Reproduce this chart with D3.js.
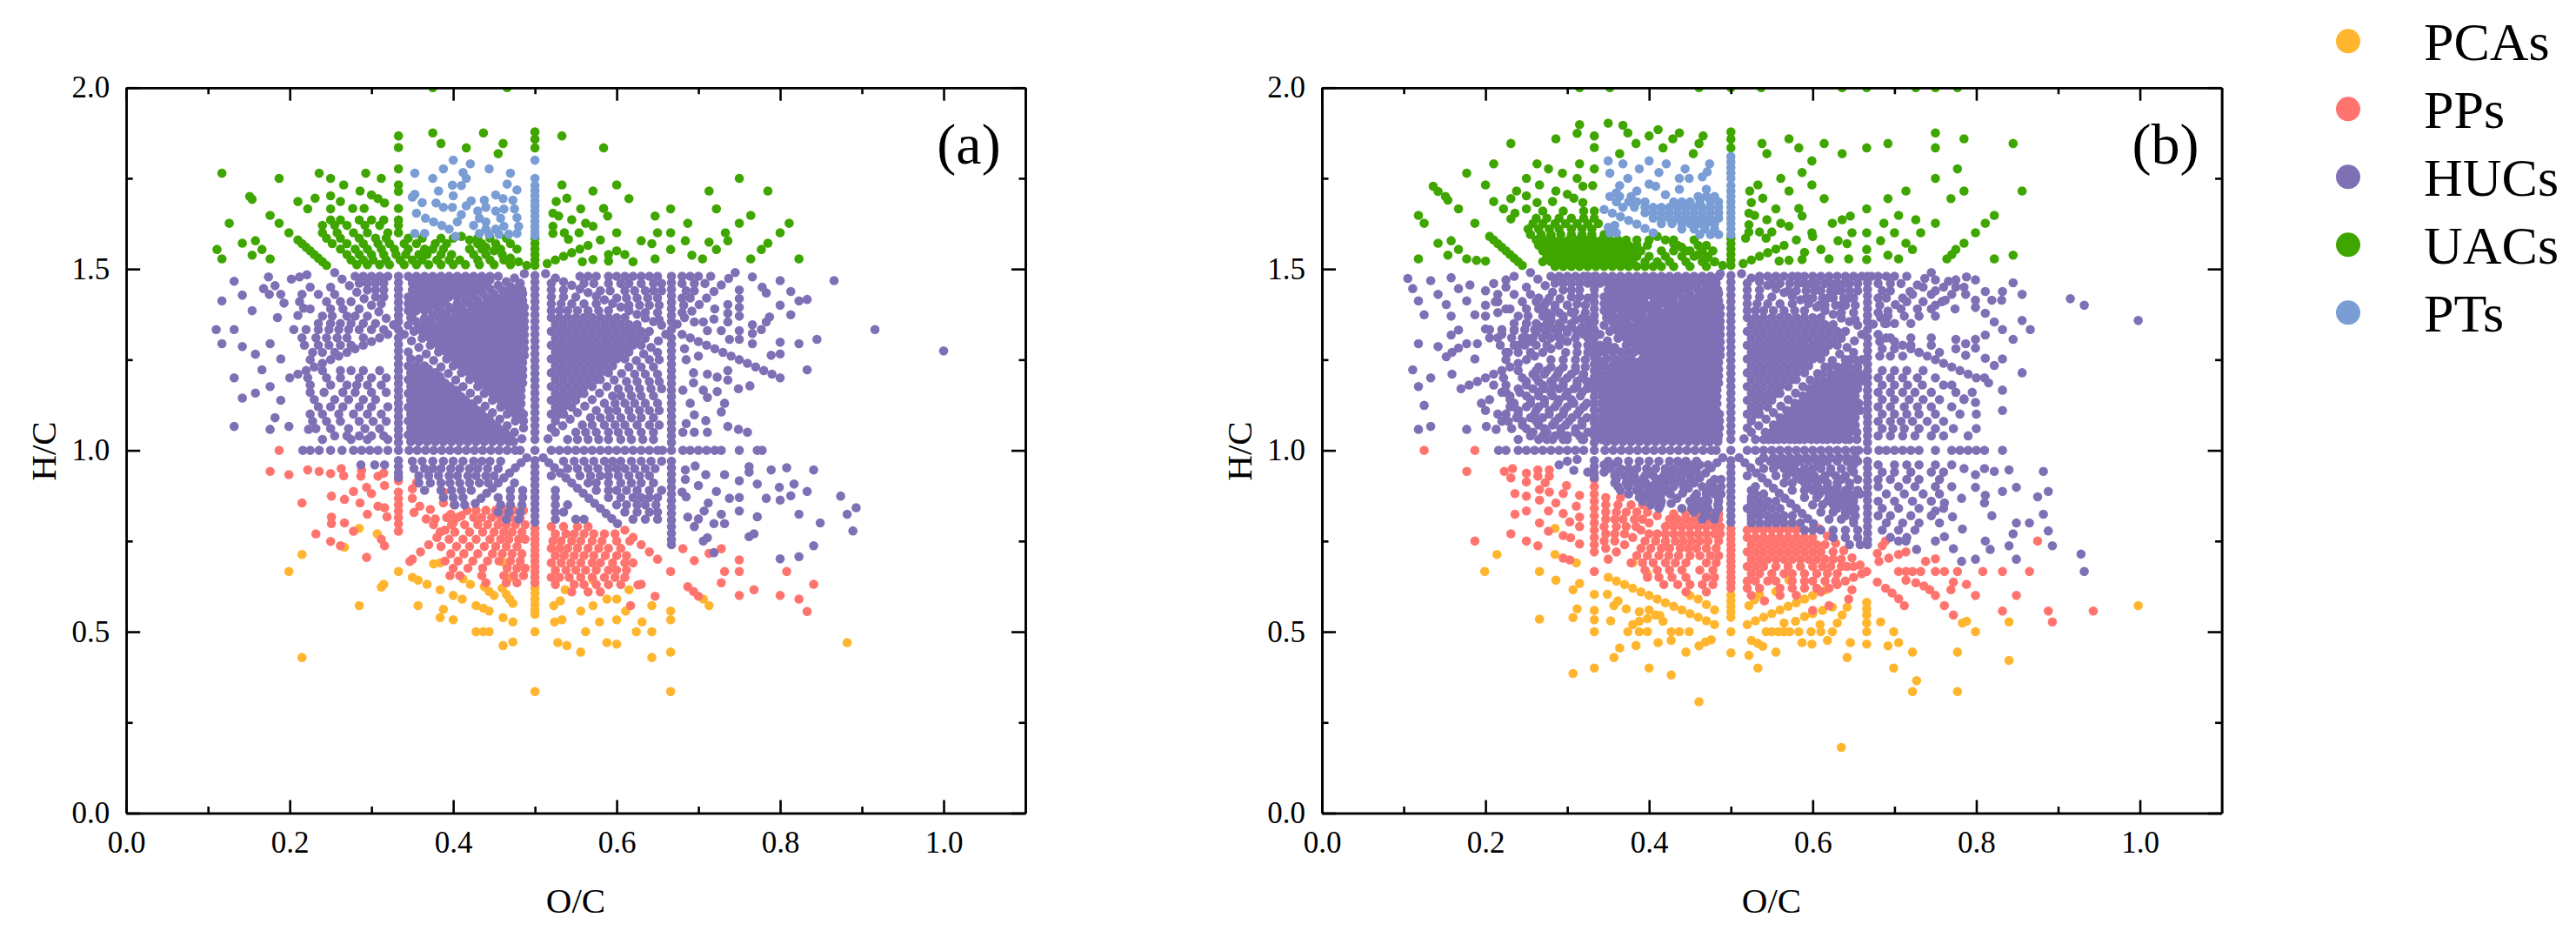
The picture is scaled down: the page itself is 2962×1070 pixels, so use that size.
<!DOCTYPE html>
<html><head><meta charset="utf-8">
<style>html,body{margin:0;background:#fff}svg{display:block}text{font-family:"Liberation Serif",serif;fill:#000}</style>
<script src="https://cdn.jsdelivr.net/npm/d3@7"></script></head><body>
<script>
const seriesNames=["PCAs","PPs","HUCs","UACs","PTs"];
const seriesColors=["#FFB52E","#FF746E","#7F70B6","#3FA600","#799DD4"];
const xTicks=[0,.2,.4,.6,.8,1.0];
const xMinor=[.1,.3,.5,.7,.9];
const yTicks=[0,.5,1,1.5,2];
const yMinor=[.25,.75,1.25,1.75];

// rows: [H/C,[O/C x 1000 ...]]
const hucCoreRows=[
[1.48,[280,290,300,310,320,345,355,365,375,385,395,405,415,425,435,445,455]],
[1.461,[285,295,305,315,350,360,370,380,390,400,410,420,430,440,482]],
[1.442,[295,305,315,350,360,370,380,390,400,410,420,428,460,472,484]],
[1.423,[305,315,345,355,365,375,385,395,405,440,450,460,470,480]],
[1.404,[312,345,355,365,375,385,420,430,440,450,460,470,480]],
[1.385,[345,355,365,402,412,422,432,442,452,462,472,482]],
[1.366,[348,382,392,402,412,422,432,442,452,462,472,482]],
[1.347,[365,375,385,395,405,415,425,435,445,455,465,475,485]],
[1.328,[352,362,372,382,392,402,412,422,432,442,452,462,472,482]],
[1.309,[362,372,382,392,402,412,422,432,442,452,462,472,482]],
[1.29,[372,382,392,402,412,422,432,442,452,462,472,482]],
[1.271,[345,382,392,402,412,422,432,442,452,462,472,482]],
[1.252,[348,358,392,402,412,422,432,442,452,462,472,482]],
[1.233,[345,355,365,400,410,420,430,440,450,460,470,480]],
[1.214,[348,358,368,378,410,420,430,440,450,460,470,480]],
[1.195,[345,355,365,375,385,420,430,440,450,460,470,480]],
[1.176,[348,358,368,378,388,396,430,440,450,460,470,480]],
[1.157,[345,355,365,375,385,395,405,438,448,458,468,478]],
[1.138,[348,358,368,378,388,398,408,415,448,458,468,478]],
[1.119,[345,355,365,375,385,395,405,415,425,458,468,478]],
[1.1,[348,358,368,378,388,398,408,418,428,435,466,476,486]],
[1.081,[345,355,365,375,385,395,405,415,425,435,445,476,486]],
[1.062,[348,358,368,378,388,398,408,418,428,438,448,455,486]],
[1.043,[345,355,365,375,385,395,405,415,425,435,445,455,465]],
[1.024,[348,358,368,378,388,398,408,418,428,438,448,458,468,474]],
// second lattice that closes the pin-holes of the solid area
[1.338,[357,367,377,387,397,407,417,427,437,447,457,467,477,487]],
[1.3185,[367,377,387,397,407,417,427,437,447,457,467,477,487]],
[1.2995,[377,387,397,407,417,427,437,447,457,467,477,487]],
[1.2805,[387,397,407,417,427,437,447,457,467,477,487]],
[1.2615,[397,407,417,427,437,447,457,467,477,487]],
[1.2425,[405,415,425,435,445,455,465,475,485]],
[1.2235,[350,360,370,415,425,435,445,455,465,475,485]],
[1.2045,[353,363,373,383,425,435,445,455,465,475,485]],
[1.1855,[350,360,370,380,390,435,445,455,465,475,485]],
[1.1665,[353,363,373,383,393,403,443,453,463,473,483]],
[1.1475,[350,360,370,380,390,400,410,453,463,473,483]],
[1.1285,[353,363,373,383,393,403,413,423,463,473,483]],
[1.11,[350,360,370,380,390,400,410,420,430,470,482]],
[1.09,[353,363,373,383,393,403,413,423,433,443,480]],
[1.07,[350,360,370,380,390,400,410,420,430,440,450]],
[1.052,[353,363,373,383,393,403,413,423,433,443,453,463]],
[1.033,[350,360,370,380,390,400,410,420,430,440,450,460,470]],
[1.47,[350,365,375,385,395,405,415,425,435,445]],
[1.452,[355,365,375,385,395,405,415,425,435,470,480]],
[1.432,[355,365,375,385,395,405,415,450,465,475,485]],
[1.413,[350,360,370,380,390,430,445,455,465,475,485]],
[1.395,[350,360,370,380,410,425,437,447,457,467,477,487]],
[1.375,[350,392,407,417,427,437,447,457,467,477,487]],
[1.356,[372,387,397,407,417,427,437,447,457,467,477,487]],
// right of O/C = 0.5
[1.461,[520]],[1.442,[520,535]],[1.423,[520,535,550]],[1.404,[520,532,545,560,575]],
[1.385,[520,530,540,552,565,578,590]],
[1.366,[520,530,540,550,560,570,580,590,600,610]],
[1.347,[525,535,545,555,565,575,585,595,605,615,625]],
[1.328,[520,530,540,550,560,570,580,590,600,610,620,630,640]],
[1.309,[525,535,545,555,565,575,585,595,605,615,625,635]],
[1.29,[520,530,540,550,560,570,580,590,600,610,620,630]],
[1.271,[525,535,545,555,565,575,585,595,605,615]],
[1.252,[520,530,540,550,560,570,580,590,600,610]],
[1.233,[525,535,545,555,565,575,585,595]],
[1.214,[520,530,540,550,560,570,580,590]],
[1.195,[525,535,545,555,565,575,580]],
[1.176,[520,530,540,550,560,570]],
[1.157,[525,535,545,555,560]],
[1.138,[520,530,540,550]],
[1.119,[525,535,545]],[1.1,[520,530,535]],[1.081,[525]],[1.062,[520]],
[1.48,[555,565,575,590,600,610,620,630,640,650,680,690,700,715]],
[1.46,[560,572,590,605,615,630,645,655,680,695,708]],
[1.44,[580,592,610,622,635,645,655,685,695]],
[1.42,[600,612,625,638,650,680,690]],
[1.4,[615,628,640,652,682]],[1.38,[635,650,680]],[1.36,[652]],
[1.27,[650]],[1.25,[640,652]],[1.23,[630,645]],[1.21,[622,635,650]],[1.19,[612,625,640,652]],
[1.17,[602,615,628,642,655]],[1.15,[595,605,618,630,645]],[1.13,[585,598,610,622,635,650]],
[1.11,[575,590,600,615,628,640,652]],[1.09,[568,580,592,605,618,630,645]],
[1.07,[558,570,585,598,610,625,640,652]],[1.05,[550,562,575,590,602,615,630,645]],
[1.03,[540,552,565,578,590,605,618,632,645]]
];
const hucRayPts=[
[.255,1.49],[.264,1.472],[.273,1.454],[.282,1.436],[.291,1.418],[.3,1.4],[.309,1.382],[.318,1.364],[.327,1.346],[.333,1.333],[.34,1.32],[.349,1.302],[.358,1.284],[.367,1.266],[.376,1.248],[.385,1.23],[.394,1.212],[.403,1.194],[.412,1.176],[.421,1.158],[.43,1.14],[.439,1.122],[.448,1.104],[.457,1.086],[.466,1.068],[.475,1.05],[.484,1.032],
[.2,1.2],[.21,1.21],[.22,1.22],[.23,1.23],[.24,1.24],[.25,1.25],[.26,1.26],[.27,1.27],[.28,1.28],[.29,1.29],[.3,1.3],[.31,1.31],[.32,1.32],[.345,1.345],[.355,1.355],[.365,1.365],[.375,1.375],[.385,1.385],[.395,1.395],[.405,1.405],[.415,1.415],[.425,1.425],[.435,1.435],[.445,1.445],[.455,1.455],[.465,1.465],[.475,1.475],[.487,1.487],
[.513,1.487],[.525,1.475],[.535,1.465],[.545,1.455],[.555,1.445],[.565,1.435],[.575,1.425],[.585,1.415],[.595,1.405],[.605,1.395],[.615,1.385],[.625,1.375],[.635,1.365],[.645,1.355],[.655,1.345],[.667,1.333],[.68,1.32],[.69,1.31],[.7,1.3],[.71,1.29],[.72,1.28],[.73,1.27],[.74,1.26],[.75,1.25],[.76,1.24],[.77,1.23],[.78,1.22],[.79,1.21],[.8,1.2],
[.516,1.032],[.525,1.05],[.534,1.068],[.543,1.086],[.552,1.104],[.561,1.122],[.57,1.14],[.579,1.158],[.588,1.176],[.597,1.194],[.606,1.212],[.615,1.23],[.624,1.248],[.633,1.266],[.642,1.284],[.651,1.302],[.66,1.32],[.674,1.348],[.683,1.366],[.692,1.384],[.701,1.402],[.71,1.42],[.719,1.438],[.728,1.456],[.737,1.474],[.745,1.49],
// column O/C = 1/2 upper
[.5,1.482],[.5,1.464],[.5,1.446],[.5,1.428],[.5,1.41],[.5,1.392],[.5,1.374],[.5,1.356],[.5,1.338],[.5,1.32],[.5,1.302],[.5,1.284],[.5,1.266],[.5,1.248],[.5,1.23],[.5,1.212],[.5,1.194],[.5,1.176],[.5,1.158],[.5,1.14],[.5,1.122],[.5,1.104],[.5,1.086],[.5,1.068],[.5,1.05],[.5,1.03],
[.5,1.0],
[.5,.972],[.5,.955],[.5,.938],[.5,.921],[.5,.904],[.5,.887],[.5,.87],[.5,.853],[.5,.836],[.5,.819],[.5,.802],
// columns 1/3 and 2/3
[.333,1.48],[.333,1.462],[.333,1.444],[.333,1.426],[.333,1.408],[.333,1.39],[.333,1.372],[.333,1.355],[.333,1.31],[.333,1.292],[.333,1.274],[.333,1.256],[.333,1.238],[.333,1.22],[.333,1.202],[.333,1.184],[.333,1.166],[.333,1.148],[.333,1.13],[.333,1.112],[.333,1.094],[.333,1.076],[.333,1.058],[.333,1.04],[.333,1.022],
[.667,1.48],[.667,1.462],[.667,1.444],[.667,1.426],[.667,1.408],[.667,1.39],[.667,1.372],[.667,1.355],[.667,1.31],[.667,1.292],[.667,1.274],[.667,1.256],[.667,1.238],[.667,1.22],[.667,1.202],[.667,1.184],[.667,1.166],[.667,1.148],[.667,1.13],[.667,1.112],[.667,1.094],[.667,1.076],[.667,1.058],[.667,1.04],[.667,1.022],
[.333,.972],[.333,.955],[.333,.938],[.333,.925],
[.667,.97],[.667,.952],[.667,.934],[.667,.916],[.667,.898],[.667,.88],[.667,.862],[.667,.844],[.667,.826],[.667,.808],[.667,.79],[.667,.772],[.667,.754],[.667,.74],
// rays under H/C = 1
[.49,.98],[.483,.966],[.476,.952],[.469,.938],[.462,.924],[.455,.91],[.448,.896],[.441,.882],[.434,.868],[.427,.854],
[.51,.98],[.517,.966],[.524,.952],[.531,.938],[.538,.924],[.545,.91],[.552,.896],[.559,.882],[.566,.868],[.573,.854],[.58,.84],[.587,.826],[.594,.812],[.601,.798]
];
const hucLowerRows=[
[.97,[350,362,375,388,400,412,425,435,445,458,535,548,560,572,585,595,605,618,630,642,655]],
[.95,[352,365,375,385,397,408,420,430,442,455,540,552,565,577,590,600,610,622,635,647]],
[.93,[358,370,382,395,405,418,428,440,450,520,555,568,580,590,602,615,628,640]],
[.91,[358,372,385,396,408,420,432,443,475,565,575,590,605,618,630,645]],
[.89,[365,385,398,410,422,470,485,525,575,590,600,612,625,640,655]],
[.87,[388,400,412,455,470,485,525,590,605,620,630,640,650]],
[.85,[402,414,458,470,484,525,540,600,612,625,635,648]],
[.83,[455,468,482,525,535,610,625,640,650]],
[.81,[465,480,525,550,560,620,635,650]]
];
const hucAPts=[
[.132,1.466],[.174,1.478],[.182,1.454],[.168,1.446],[.117,1.412],[.142,1.428],[.175,1.43],[.189,1.43],[.202,1.472],[.212,1.478],[.221,1.484],[.193,1.406],[.154,1.385],[.217,1.392],[.185,1.366],[.21,1.372],[.11,1.333],[.132,1.333],[.117,1.294],[.142,1.286],[.158,1.265],[.176,1.294],[.189,1.252],[.166,1.222],[.132,1.2],[.176,1.176],[.142,1.144],[.158,1.158],[.189,1.138],[.182,1.09],[.132,1.066],[.176,1.058],[.199,1.066],[.223,1.058],
[.866,1.468],[.916,1.333],[1.0,1.274],[.813,1.438],[.8,1.468],[.778,1.45],[.766,1.478],[.783,1.434],[.823,1.412],[.833,1.416],[.8,1.4],[.813,1.374],[.787,1.368],[.783,1.354],[.777,1.333],[.845,1.306],[.823,1.294],[.8,1.298],[.8,1.266],[.789,1.262],[.833,1.222],[.766,1.294],[.766,1.346],[.766,1.322],[.75,1.442],[.75,1.418],[.75,1.394],[.75,1.37],[.75,1.33],[.75,1.306],[.736,1.402],[.736,1.378],[.736,1.354],[.728,1.33],[.738,1.306],[.719,1.362],[.706,1.354],[.695,1.354],[.711,1.33],[.72,1.39],
[.763,1.178],[.749,1.17],[.736,1.194],[.723,1.202],[.711,1.21],[.736,1.22],[.694,1.214],[.694,1.186],[.706,1.166],[.723,1.162],[.732,1.13],[.711,1.146],[.69,1.13],[.728,1.106],[.695,1.098],[.681,1.166],[.685,1.074],[.709,1.082],[.736,1.066],[.749,1.058],[.76,1.05],[.711,1.05],[.695,1.05],[.681,1.05],[.685,1.25],[.7,1.26],[.683,1.28],
[.216,1],[.225,1],[.236,1],[.25,1],[.264,1],[.278,1],[.288,1],[.298,1],[.308,1],[.32,1],[.333,1],[.346,1],[.356,1],[.366,1],[.376,1],[.386,1],[.396,1],[.406,1],[.416,1],[.426,1],[.436,1],[.446,1],[.456,1],[.466,1],[.476,1],[.482,1],[.52,1],[.53,1],[.54,1],[.55,1],[.56,1],[.57,1],[.58,1],[.59,1],[.6,1],[.61,1],[.62,1],[.63,1],[.64,1],[.65,1],[.656,1],[.667,1],[.681,1],[.69,1],[.7,1],[.71,1],[.72,1],[.728,1],[.75,1],[.772,1],[.778,1],
[.287,.96],[.304,.96],[.316,.96],
[.684,.946],[.696,.957],[.709,.933],[.732,.933],[.762,.955],[.762,.94],[.789,.946],[.808,.952],[.841,.946],[.75,.916],[.772,.907],[.799,.898],[.817,.907],[.833,.887],[.783,.868],[.8,.863],[.813,.875],[.738,.868],[.722,.887],[.712,.855],[.707,.833],[.7,.811],[.695,.79],[.728,.824],[.732,.798],[.719,.798],[.75,.833],[.772,.817],[.823,.824],[.849,.8],[.874,.874],[.882,.824],[.893,.842],[.889,.778],[.768,.77],[.762,.762],[.841,.737],[.823,.707],[.8,.701],[.711,.759],[.706,.75],[.719,.718],[.684,.92],[.68,.885],[.685,.872],[.687,.816],[.7,.903],[.75,.87]
];
const hucAWedgeRows=[
[1.45,[225,250]],[1.43,[215,235,255]],[1.41,[212,245,262,275]],[1.39,[225,250,265,285]],[1.37,[240,252,270,280,295]],[1.35,[235,250,262,275,290,305]],[1.333,[205,220,235,248,260,272,285,300,315]],[1.31,[215,232,245,258,270,290]],[1.29,[218,235,248,262,275]],[1.27,[228,240,255]],[1.25,[225]],
[1.22,[240,262,275,290,310]],[1.2,[222,245,262,285,300,318]],[1.18,[225,250,270,282,295,312]],[1.16,[225,242,265,280,300,318]],[1.14,[230,255,272,290,305]],[1.12,[235,250,265,285,300,320]],[1.1,[225,240,260,278,295,312]],[1.08,[228,245,262,285,302,318]],[1.06,[232,250,272,292,310]],[1.04,[255,270,285,300,315]],[1.03,[240,275,295,320]]
];
const hucBExtraRows=[
[1.461,[450,460,470]],[1.442,[438,448]],[1.423,[415,428]],[1.404,[395,408]],[1.385,[375,390]],[1.366,[358,370]],
[1.271,[355,365,375]],[1.252,[368,378]],[1.233,[375,388]],[1.214,[388,398]],[1.195,[395,408]],[1.176,[408,418]],[1.157,[415,426]],[1.138,[425,436]],[1.119,[435,446]],[1.1,[445,456]],[1.081,[455,465]],[1.062,[465,475]],[1.043,[475,485]],[1.024,[484]],
[1.2425,[360,372,385,395]],[1.2235,[380,392,405]],[1.2045,[393,403,415]],[1.1855,[400,412,425]],[1.1665,[413,423,433]],[1.1475,[420,432,443]],[1.1285,[433,443,453]],[1.11,[440,450,460]],[1.09,[453,463,470]],[1.07,[460,470,480]],[1.052,[473,483]],[1.033,[480]],
[1.48,[325,335,485,475,465]],[1.461,[325,340,472]],
[1.42,[265,278,325]],[1.4,[272,285,300,322]],[1.38,[275,290,305,322]],[1.36,[280,295,310,325]],[1.34,[268,280,292,305,318]],[1.325,[262,275,288,300,312,325]],[1.31,[280,292,325]],
[1.29,[312,325,340,350]],[1.27,[298,312,325,338]],[1.25,[280,295,310,322,338]],[1.23,[265,280,295,310,322,338]],[1.21,[258,272,288,305,320,340]],[1.19,[250,265,280,295,312,324,340]],[1.17,[240,258,272,290,308,324,342]],[1.15,[230,250,265,282,298,316,342]],[1.13,[235,255,272,288,308,324,342]],[1.11,[240,262,278,296,315,342]],[1.09,[238,255,270,290,306,324,342]],[1.07,[245,265,282,298,318,342]],[1.05,[258,275,292,310,325,342]],[1.03,[265,282,300,318,342]],
[1.48,[535,545,582,660,672]],[1.46,[550,582,598,622,638]],[1.44,[570,602,628]],[1.42,[592,618,645]],[1.4,[608,635]],
[1.35,[688,700,720]],[1.31,[695,720,745]],[1.29,[720,745]],[1.27,[730,755]],
[1.25,[645,660]],[1.23,[620,638,655]],[1.21,[612,628,642,658]],[1.19,[604,618,632,646,658]],[1.17,[596,608,622,636,650]],[1.15,[588,600,612,624,638,652]],[1.13,[578,590,604,616,628,642,656]],[1.11,[568,582,594,608,622,634,646,658]],[1.09,[560,574,586,598,612,624,638,652]],[1.07,[552,564,578,592,604,618,632,646]],[1.05,[542,556,568,582,596,608,622,638,654]],[1.03,[530,546,558,572,584,598,612,626,640,654]],
[1.22,[685,700,715,735]],[1.2,[680,695,710,728,750]],[1.18,[685,700,716,734,760]],[1.16,[680,695,710,725,745,775,795]],[1.14,[685,700,718,735,755,785]],[1.12,[680,695,712,728,745,770]],[1.1,[685,700,715,730,750,780,800]],[1.08,[680,695,708,722,740,760]],[1.06,[685,698,712,730,750,772,800]],[1.04,[680,695,710,725,745,760,790]],
[1.26,[682,695,710]],[1.28,[685,700]],[1.3,[682]],[1.35,[690]],[1.37,[692,712,730]],[1.39,[708,728,745]],[1.41,[715,735,758]],[1.43,[722,745,770]],[1.45,[735,760,785]],[1.47,[750,775]]
];
const hucBPts=[
[.998,1.358],[.915,1.418],[.932,1.4],[.845,1.462],[.856,1.43],[.856,1.358],[.866,1.333],[.845,1.306],[.832,1.438],[.811,1.438],[.831,1.414],[.819,1.414],[.811,1.378],[.799,1.394],[.788,1.478],[.799,1.47],[.766,1.466],[.775,1.45],[.787,1.43],[.799,1.414],[.762,1.414],[.774,1.39],[.75,1.44],[.75,1.4],[.75,1.37],[.822,1.354],[.832,1.333],[.811,1.318],[.799,1.306],[.775,1.306],[.787,1.294],[.799,1.282],[.775,1.28],[.787,1.262],[.811,1.254],[.832,1.252],[.822,1.234],[.856,1.214],[.81,1.2],[.815,1.186],[.832,1.166],[.832,1.11],[.799,1.132],[.785,1.142],[.77,1.18],
[.105,1.474],[.111,1.446],[.118,1.412],[.125,1.374],[.133,1.468],[.142,1.43],[.158,1.476],[.167,1.446],[.181,1.456],[.152,1.402],[.158,1.37],[.177,1.412],[.187,1.374],[.118,1.294],[.142,1.286],[.111,1.222],[.133,1.2],[.118,1.176],[.125,1.124],[.118,1.058],[.133,1.066],[.177,1.058],[.201,1.066],[.213,1.058],[.159,1.21],[.152,1.258],[.159,1.27],[.167,1.282],[.177,1.294],[.187,1.252],[.19,1.294],[.158,1.318],[.167,1.332],[.2,1.335],[.2,1.44],[.21,1.46],[.225,1.47],[.235,1.48],[.2,1.4],[.215,1.41],[.2,1.37],[.215,1.38],[.23,1.39],[.205,1.31],[.22,1.32],[.235,1.33],[.25,1.35],[.25,1.31],[.24,1.29],[.255,1.3],[.225,1.27],[.17,1.17],[.18,1.18],[.19,1.19],[.195,1.13],[.205,1.14],[.215,1.1],[.2,1.11],[.22,1.08],[.23,1.12],[.22,1.16],[.21,1.18],
[.216,1],[.225,1],[.24,1],[.25,1],[.26,1],[.27,1],[.28,1],[.29,1],[.3,1],[.31,1],[.32,1],[.333,1],[.346,1],[.356,1],[.366,1],[.376,1],[.386,1],[.396,1],[.406,1],[.416,1],[.426,1],[.436,1],[.446,1],[.456,1],[.466,1],[.476,1],[.482,1],[.52,1],[.53,1],[.54,1],[.55,1],[.56,1],[.57,1],[.58,1],[.59,1],[.6,1],[.61,1],[.62,1],[.63,1],[.64,1],[.65,1],[.656,1],[.667,1],[.681,1],[.69,1],[.7,1],[.71,1],[.72,1],[.73,1],[.75,1],[.77,1],[.78,1],[.79,1],[.8,1],[.81,1],[.832,1],
[.882,.942],[.84,.946],[.822,.942],[.81,.95],[.799,.933],[.785,.95],[.799,.898],[.849,.898],[.832,.887],[.811,.876],[.782,.868],[.761,.855],[.888,.887],[.875,.872],[.81,.855],[.819,.82],[.882,.824],[.865,.8],[.849,.8],[.845,.77],[.888,.778],[.783,.783],[.771,.817],[.75,.833],[.761,.762],[.75,.75],[.811,.75],[.817,.727],[.84,.737],[.893,.737],[.928,.714],[.932,.666],[.849,.7],[.799,.7],[.782,.694],[.772,.729],[.727,.727],[.714,.75],[.705,.75],
[.29,.96],[.3,.97],[.312,.975],[.308,.945],[.325,.94]
];
const hucBLowerRows=[
[.98,[540,552,562,572,582,592,602,612,622,632,642,652]],
[.96,[345,355,440,450,462,472,556,568,578,610,650]],
[.94,[345,362,380,400,420,435,445,458,572,585,598,622,650]],
[.92,[360,378,392,412,426,438,452,480,488,585,596,610,635,655]],
[.9,[362,375,388,402,416,430,442,465,478,488,530,595,606,618,630,645]],
[.88,[375,392,405,415,426,458,470,480,488,530,540,608,620,632,645,658]],
[.86,[392,405,415,450,462,472,485,525,535,545,555,618,628,640,650]],
[.84,[412,440,452,462,472,485,520,530,540,550,560,630,642,652]],
[.82,[470,480,525,535,545,555,565,575,640,652]],
[.8,[525,535,545,555,565,575,585,650]],
[.78,[590,600,610,625,640,655]],[.76,[625,640,655]],[.74,[645,658]],
[.96,[680,700,715,730,750,770]],[.94,[685,700,720,745,760]],[.92,[680,695,715,730,755]],[.9,[680,705,725,750,770]],[.88,[690,712,735,755]],[.86,[680,700,722,745]],[.84,[685,705,730,760]],[.82,[680,695,720,745]],[.8,[690,710,730,755]],[.78,[685,705,725]],[.76,[695,715]]
];
const ppAPts=[
[.187,1],[.176,.942],[.199,.933],[.222,.946],[.236,.942],[.25,.936],[.263,.95],[.266,.93],[.288,.945],[.287,.929],[.308,.929],[.315,.937],
[.333,.916],[.333,.885],[.333,.867],[.333,.85],[.333,.833],[.333,.815],[.333,.797],[.333,.777],[.294,.898],[.316,.903],[.3,.881],[.278,.887],[.251,.874],[.267,.865],[.286,.855],[.215,.855],[.308,.846],[.316,.842],[.295,.824],[.319,.817],[.251,.816],[.251,.798],[.267,.8],[.278,.777],[.232,.77],[.25,.749],[.262,.737],[.312,.755],[.316,.737],[.294,.705],
[.355,.911],[.35,.894],[.35,.868],[.359,.846],[.352,.829],[.372,.837],[.367,.811],[.378,.811],[.388,.885],[.388,.855],[.401,.85],[.397,.824],
[.417,.834],[.41,.82],[.4,.8],[.39,.78],[.38,.76],[.37,.74],[.36,.72],[.35,.7],[.347,.694],
[.61,.78],[.62,.76],[.63,.74],[.64,.72],[.65,.7],
[.666,.666],[.681,.729],[.695,.696],[.713,.716],[.728,.729],[.732,.666],[.75,.698],[.75,.666],[.808,.666],[.728,.635],[.841,.631],[.687,.624],[.694,.611],[.7,.598],[.75,.6],[.768,.616],[.8,.6],[.823,.59],[.833,.556],[.647,.598],[.626,.629],[.63,.631],[.617,.572],
[.5,.785],[.5,.77],[.5,.755],[.5,.74],[.5,.725],[.5,.71],[.5,.695],[.5,.68],[.5,.665],[.5,.65],[.5,.635]
];
const ppARows=[
[.835,[428,440,452,463,474,486]],[.815,[392,405,425,435,447,458,470,482]],[.795,[376,398,414,430,442,455,465,476,488]],[.775,[384,402,420,436,450,462,472,484]],[.755,[395,412,428,445,458,468,480,488]],[.735,[385,404,420,438,452,465,478]],[.715,[397,413,430,448,460,472,484]],[.695,[390,406,424,442,456,470,482]],[.675,[400,418,436,466,478,488]],[.655,[396,408,435,462,474,486]],[.635,[440,465,478]],
[.79,[520,535,552,565]],[.77,[525,538,548,560,572,585,598]],[.75,[522,532,545,556,570,582,600,616]],[.73,[520,530,540,552,565,578,590,605]],[.71,[525,536,548,560,572,586,600,612]],[.69,[520,532,544,556,570,580,595,610,620]],[.67,[525,538,550,562,575,590,600,612]],[.65,[520,530,542,556,570,585,598,610]],[.63,[525,548,560,575,590,605]],[.61,[545,565,580]]
];
const pcaAPts=[
[.285,.785],[.307,.77],[.267,.733],[.215,.713],[.199,.666],[.376,.687],[.384,.69],[.333,.666],[.35,.65],[.357,.642],[.368,.631],[.315,.631],[.312,.623],[.384,.616],[.4,.6],[.411,.59],[.285,.572],[.357,.572],[.388,.562],[.384,.539],[.4,.533],[.412,.646],[.421,.631],[.438,.624],[.444,.611],[.45,.6],[.46,.62],[.465,.603],[.469,.59],[.473,.578],[.461,.692],[.469,.649],[.428,.572],[.437,.565],[.444,.557],[.461,.539],[.473,.527],[.428,.5],[.437,.5],[.444,.5],[.473,.472],[.461,.462],[.5,.5],[.5,.62],[.5,.605],[.5,.59],[.5,.575],[.5,.56],[.5,.548],[.528,.47],[.539,.462],[.556,.444],[.524,.527],[.533,.533],[.523,.572],[.531,.585],[.537,.616],[.571,.643],[.556,.557],[.571,.572],[.588,.59],[.615,.616],[.6,.59],[.579,.527],[.562,.5],[.6,.533],[.611,.557],[.624,.5],[.631,.527],[.643,.5],[.643,.572],[.666,.557],[.666,.533],[.588,.47],[.6,.466],[.666,.444],[.643,.429],[.215,.429],[.5,.335],[.666,.335],[.882,.47],[.706,.59],[.713,.572]
];
const uacRayPts=[
[.21,1.58],[.215,1.57],[.22,1.56],[.225,1.55],[.23,1.54],[.235,1.53],[.24,1.52],[.245,1.51],
[.49,1.51],[.48,1.52],[.47,1.53],[.46,1.54],[.45,1.55],[.44,1.56],[.43,1.57],[.42,1.58],[.41,1.59],
[.515,1.515],[.525,1.525],[.535,1.535],[.545,1.545],[.555,1.555],[.565,1.565],[.58,1.58],
[.5,1.51],[.5,1.525],[.5,1.54],[.5,1.555],[.5,1.57],[.5,1.585]
];
const uacAPts=[
[.375,2],[.466,2],
[.333,1.867],[.333,1.835],[.375,1.875],[.385,1.846],[.416,1.834],[.437,1.875],[.461,1.846],[.455,1.818],[.5,1.878],[.5,1.858],[.5,1.834],[.533,1.867],[.584,1.834],[.117,1.764],[.187,1.75],[.236,1.764],[.25,1.75],[.293,1.764],[.312,1.75],[.333,1.776],[.266,1.732],[.333,1.732],[.333,1.714],[.286,1.715],[.151,1.7],[.154,1.692],[.21,1.686],[.231,1.695],[.25,1.702],[.262,1.686],[.3,1.704],[.308,1.694],[.316,1.682],[.277,1.667],[.291,1.667],[.333,1.667],[.222,1.666],[.25,1.666],[.533,1.732],[.571,1.715],[.6,1.732],[.615,1.694],[.539,1.695],[.526,1.686],[.556,1.666],[.584,1.667],[.589,1.646],[.75,1.75],[.713,1.715],[.785,1.715],[.666,1.666],[.722,1.666],[.647,1.646],[.764,1.648],[.126,1.626],[.176,1.648],[.187,1.626],[.199,1.6],[.522,1.654],[.529,1.646],[.545,1.636],[.562,1.626],[.571,1.618],[.687,1.626],[.75,1.626],[.811,1.626],[.6,1.6],[.65,1.6],[.666,1.6],[.733,1.6],[.8,1.6],[.522,1.618],[.522,1.598],[.536,1.6],[.554,1.6],[.541,1.582],
[.158,1.578],[.142,1.571],[.166,1.554],[.111,1.554],[.117,1.528],[.154,1.538],[.176,1.528],
[.6,1.55],[.61,1.54],[.62,1.52],[.59,1.54],[.59,1.522],[.558,1.52],[.571,1.526],[.647,1.528],[.63,1.578],[.643,1.57],[.666,1.554],[.684,1.578],[.692,1.538],[.705,1.528],[.713,1.574],[.722,1.554],[.736,1.578],[.764,1.528],[.777,1.554],[.785,1.571],[.823,1.528]
];
const uacARows=[
[1.635,[250,262,285,300,315,333]],[1.62,[240,255,270,292,310,333]],[1.6,[240,258,278,295,320,333]],
[1.585,[245,262,285,305,318,345,362,385,400,430,445,465]],[1.57,[252,270,290,308,322,340,355,378,392,435,452,470]],[1.555,[262,280,295,312,328,345,365,375,388,420,435,458,478]],[1.54,[270,285,300,315,330,342,358,368,385,398,425,440]],[1.525,[275,290,302,318,335,350,362,380,395,408,430,445,462]],[1.512,[282,295,310,322,340,355,370,385,400,415,432,450,470]]
];
const ptAPts=[
[.5,1.8],[.5,1.75],[.5,1.73],[.5,1.716],[.5,1.702],[.5,1.688],[.5,1.674],[.5,1.66],[.5,1.646],[.5,1.632],[.5,1.618],[.5,1.604],[.5,1.592],
[.4,1.8],[.421,1.79],[.388,1.776],[.444,1.776],[.353,1.764],[.412,1.766],[.47,1.764],[.375,1.75],[.416,1.75],[.399,1.731],[.41,1.73],[.466,1.734],[.382,1.715],[.353,1.706],[.35,1.698],[.4,1.702],[.478,1.718],[.452,1.704],[.461,1.694],[.362,1.683],[.379,1.682],[.388,1.67],[.399,1.67],[.422,1.688],[.416,1.674],[.41,1.65],[.405,1.63],[.438,1.69],[.44,1.67],[.473,1.69],[.475,1.666],[.478,1.642],[.48,1.618],[.478,1.598],
[.355,1.654],[.366,1.64],[.376,1.63],[.386,1.62],[.395,1.61],[.403,1.59],[.353,1.598],[.365,1.598],
[.432,1.64],[.425,1.62],[.44,1.63],[.458,1.64],[.462,1.618],[.44,1.61],[.452,1.61],[.432,1.598],[.444,1.596],[.456,1.596],[.468,1.596],[.43,1.66],[.452,1.66],[.462,1.665]
];
// panel (b)
const ppBPts=[
[.125,1],[.187,1],[.177,.942],[.223,.942],[.233,.95],[.231,.924],[.25,.937],[.25,.913],[.264,.946],[.264,.929],[.278,.946],[.278,.929],[.236,.881],[.25,.874],[.266,.892],[.278,.885],[.273,.911],[.266,.863],[.25,.833],[.236,.824],[.277,.833],[.266,.8],[.286,.855],[.295,.881],[.299,.903],[.295,.826],[.311,.846],[.315,.876],[.303,.803],[.315,.816],[.315,.79],[.277,.777],[.295,.765],[.304,.759],[.187,.75],[.231,.77],[.25,.75],[.264,.737],[.315,.742],[.295,.703],[.303,.698],[.333,.666],
[.333,.92],[.333,.9],[.333,.88],[.333,.86],[.333,.84],[.333,.82],[.333,.8],[.333,.78],[.333,.76],[.333,.74],[.333,.72],
[.705,.666],[.714,.666],[.722,.666],[.732,.666],[.75,.666],[.761,.666],[.777,.666],[.808,.666],[.832,.666],[.865,.666],[.875,.75],[.738,.694],[.75,.701],[.714,.642],[.726,.635],[.736,.626],[.743,.616],[.75,.6],[.761,.572],[.772,.546],[.772,.637],[.769,.616],[.788,.631],[.799,.6],[.849,.6],[.832,.557],[.888,.557],[.893,.527],[.943,.557],[.679,.637],[.689,.62],[.697,.607],[.705,.591],[.712,.572],[.648,.616],[.644,.59],[.62,.572],[.6,.559],[.541,.585],[.681,.694],[.693,.703],[.705,.713],[.714,.72],[.679,.716],[.685,.737],[.689,.75],[.666,.666],
[.608,.784],[.618,.764],[.628,.744],[.638,.724],[.648,.704],[.658,.684],
[.61,.61],[.62,.62],[.63,.63],[.64,.64],[.65,.65],[.66,.66],
[.41,.82],[.4,.8],[.39,.78],[.38,.76],[.37,.74],[.36,.72],[.35,.7],
[.5,.785],[.5,.77],[.5,.755],[.5,.74],[.5,.725],[.5,.71],[.5,.695],[.5,.68],[.5,.665],[.5,.65],[.5,.635],[.5,.62]
];
const ppBRows=[
[.87,[347,365]],[.85,[347,362,378,392]],[.83,[347,360,372,385,398]],[.81,[347,358,368,382,392]],[.79,[345,360,372,384]],[.77,[347,358,370]],[.75,[345,358]],[.73,[347]],
[.825,[430,445,460,475,485]],[.81,[425,435,445,455,465,475,485]],[.79,[420,430,440,450,460,470,480,487]],[.77,[400,410,420,430,440,450,460,470,480,487]],
[.75,[395,408,420,432,442,452,462,472,485]],[.73,[390,402,415,425,438,448,458,470,482]],[.71,[385,398,412,424,436,450,462,475,485]],[.69,[378,392,405,420,432,445,470,482]],[.67,[395,410,425,440,462,478]],[.65,[398,412,428,445,470,480]],[.63,[418,435,450,465,478]],[.61,[445,470]],
[.78,[520,530,540,550,560,570,580,590]],[.76,[520,530,540,550,560,570,580,590,600]],[.74,[525,535,545,555,565,575,585,595,605,615]],[.72,[520,530,540,550,560,570,580,590,600,610,625]],[.7,[525,535,545,555,565,575,585,595,605,615,625,635]],[.68,[520,530,540,555,570,585,600,612,622,635,642,650]],[.66,[525,535,550,565,575,590,605,618,630]],[.64,[520,530,545,555,575,590,600,615,628]],[.62,[520,535,560,575,590,605]],[.6,[525,560,580]]
];
const pcaBPts=[
[.285,.785],[.214,.713],[.199,.666],[.266,.666],[.286,.642],[.285,.713],[.311,.69],[.38,.69],[.398,.659],[.333,.603],[.307,.616],[.315,.633],[.312,.563],[.333,.559],[.266,.535],[.307,.539],[.333,.533],[.353,.53],[.333,.5],[.374,.5],[.388,.5],[.398,.5],[.427,.5],[.437,.5],[.449,.5],
[.35,.65],[.36,.64],[.37,.63],[.38,.62],[.39,.61],[.4,.6],[.41,.59],[.42,.58],[.43,.57],[.44,.56],[.45,.55],[.46,.54],[.47,.53],[.48,.52],
[.45,.6],[.46,.59],[.47,.575],[.48,.56],[.5,.6],[.5,.585],[.5,.57],[.5,.555],[.5,.54],
[.52,.52],[.53,.53],[.54,.54],[.55,.55],[.56,.56],[.57,.57],[.58,.58],[.59,.59],[.6,.6],[.522,.572],[.529,.588],[.535,.603],
[.543,.5],[.55,.5],[.558,.5],[.565,.5],[.572,.5],[.583,.5],[.598,.5],[.61,.5],[.624,.5],[.666,.5],[.699,.5],[.799,.5],[.565,.524],[.579,.529],[.59,.542],[.6,.55],[.612,.559],[.636,.546],[.63,.524],[.609,.52],[.666,.581],[.666,.563],[.666,.546],[.666,.524],[.642,.568],[.624,.568],[.683,.527],[.783,.524],[.788,.529],[.84,.527],[.998,.572],[.587,.47],[.599,.466],[.618,.476],[.646,.47],[.666,.466],[.692,.461],[.705,.47],[.722,.444],[.777,.444],[.84,.421],[.642,.429],[.699,.4],[.727,.365],[.722,.335],[.777,.335],[.635,.181],[.461,.307],[.427,.381],[.4,.4],[.333,.4],[.307,.385],[.357,.429],[.364,.455],[.384,.462],[.411,.47],[.427,.476],[.445,.444],[.461,.461],[.469,.472],[.476,.478],[.5,.5],[.5,.442],[.522,.435],[.533,.4],[.555,.444],[.525,.476],[.533,.468],[.539,.46],[.38,.52],[.388,.529],[.398,.536],[.408,.546],[.417,.529],[.362,.585],[.372,.563],[.349,.603],[.357,.572],[.388,.555],[.4,.56],[.413,.545],[.571,.642],[.555,.611],[.616,.616]
];
const uacBPts=[
[.315,2],[.352,2],[.461,2],[.5,2],[.537,2],[.636,2],[.666,2],[.726,2],[.75,2],[.777,2],
[.315,1.898],[.312,1.874],[.35,1.902],[.368,1.896],[.374,1.875],[.333,1.867],[.333,1.835],[.286,1.859],[.231,1.846],[.384,1.846],[.4,1.867],[.411,1.884],[.437,1.875],[.429,1.859],[.466,1.867],[.461,1.846],[.417,1.834],[.454,1.818],[.364,1.818],[.5,1.878],[.5,1.858],[.5,1.834],[.538,1.846],[.571,1.859],[.544,1.818],[.583,1.834],[.614,1.846],[.636,1.818],[.666,1.834],[.692,1.846],[.75,1.875],[.75,1.834],[.785,1.859],[.845,1.846],[.599,1.798],[.777,1.776],[.75,1.75],[.785,1.715],[.856,1.715],[.769,1.694],[.714,1.715],[.692,1.694],[.587,1.766],[.561,1.75],[.599,1.732],[.571,1.715],[.614,1.694],[.533,1.732],[.523,1.715],[.539,1.695],[.525,1.683],[.555,1.666],[.583,1.667],[.587,1.646],[.522,1.654],[.529,1.648],[.544,1.636],[.561,1.626],[.571,1.618],[.666,1.666],[.646,1.646],[.636,1.636],[.624,1.626],[.599,1.6],[.687,1.626],[.705,1.648],[.726,1.636],[.75,1.626],[.822,1.648],[.811,1.626],[.799,1.6],[.785,1.571],[.775,1.554],[.77,1.54],[.764,1.528],[.822,1.528],[.845,1.538],[.732,1.6],[.7,1.6],[.666,1.6],[.648,1.6],[.631,1.578],[.642,1.57],[.683,1.578],[.714,1.571],[.722,1.554],[.692,1.538],[.705,1.528],[.666,1.554],[.666,1.526],[.644,1.528],[.62,1.528],[.61,1.554],[.59,1.546],[.587,1.526],[.571,1.524],[.559,1.522],[.522,1.602],[.522,1.622],[.543,1.585],[.535,1.602],[.55,1.602],[.518,1.585],
[.21,1.79],[.177,1.764],[.263,1.79],[.277,1.776],[.294,1.764],[.315,1.79],[.333,1.776],[.312,1.75],[.319,1.728],[.331,1.73],[.25,1.75],[.266,1.732],[.2,1.732],[.136,1.728],[.142,1.714],[.151,1.7],[.154,1.69],[.167,1.666],[.21,1.686],[.238,1.715],[.231,1.694],[.25,1.702],[.222,1.666],[.25,1.666],[.263,1.683],[.286,1.715],[.282,1.686],[.3,1.706],[.308,1.695],[.319,1.683],[.118,1.648],[.125,1.626],[.187,1.626],[.231,1.638],[.236,1.654],[.142,1.571],[.158,1.578],[.167,1.554],[.154,1.538],[.118,1.528],[.177,1.528],[.189,1.524],[.2,1.522],
[.205,1.59],[.6,1.59]
];
const uacBRows=[
[1.66,[270,295,320,333]],[1.64,[262,275,290,305,320,333]],[1.625,[258,270,285,298,312,325,338]],[1.61,[252,265,278,290,305,318,330]],[1.595,[255,268,280,292,305,318,330,345]],
[1.58,[262,272,282,292,302,312,322,332,342,352,362,372,385,400,430,455]],
[1.565,[265,275,285,295,305,315,325,335,345,355,365,375,385,398,435,460,470]],
[1.55,[270,280,290,300,310,320,330,340,350,360,370,380,390,415,430,445,465,478]],
[1.535,[275,285,295,305,315,325,335,345,355,365,375,385,400,420,440,455,472]],
[1.52,[270,280,290,300,310,320,330,340,350,360,370,380,395,410,425,445,465,480]],
[1.507,[285,295,305,315,325,335,345,355,365,375,385,395,405,415,430,450,470]]
];
const ptBPts=[
[.5,1.81],[.5,1.795],[.5,1.78],[.5,1.765],[.5,1.75],[.5,1.73],[.5,1.715],[.5,1.7],[.5,1.685],[.5,1.67],[.5,1.655],[.5,1.64],[.5,1.625],[.5,1.61],[.5,1.595],
[.35,1.798],[.368,1.79],[.4,1.798],[.421,1.79],[.474,1.79],[.388,1.776],[.412,1.766],[.444,1.776],[.471,1.768],[.352,1.764],[.374,1.75],[.437,1.75],[.449,1.75],[.465,1.754],[.4,1.734],[.408,1.728],[.364,1.73],[.437,1.72],[.36,1.71],[.352,1.7],[.385,1.715],[.47,1.72],[.42,1.705],
[.345,1.664],[.355,1.654],[.365,1.644],[.375,1.634],[.385,1.624],[.395,1.612],[.405,1.6],[.352,1.6],[.36,1.6],[.35,1.615],[.358,1.62]
];
const ptBRows=[
[1.7,[364,378,460,470,480]],[1.685,[360,375,385,395,430,440,450,462,475,485]],[1.67,[368,382,395,405,415,425,435,445,455,465,475,485]],[1.655,[395,405,415,425,435,445,455,465,475,485]],[1.64,[405,415,425,435,445,455,465,475,485]],[1.625,[415,428,440,450,460,470,480]],[1.61,[440,455,468,480]],[1.595,[462,475,485]]
];

const rows=r=>r.flatMap(([y,xs])=>xs.map(x=>[x/1000,y]));
const panelA=[pcaAPts,[...ppAPts,...rows(ppARows)],[...rows(hucCoreRows),...hucRayPts,...rows(hucLowerRows),...hucAPts,...rows(hucAWedgeRows)],[...uacRayPts,...uacAPts,...rows(uacARows)],ptAPts];
const panelB=[pcaBPts,[...ppBPts,...rows(ppBRows)],[...rows(hucCoreRows),...rows(hucBExtraRows),...hucRayPts,...rows(hucBLowerRows),...rows(hucLowerRows),...hucBPts,...rows(hucAWedgeRows)],[...uacRayPts,...uacBPts,...rows(uacBRows)],[...ptBPts,...rows(ptBRows)]];

const W=2962,H=1070,R=5.3;
const svg=d3.select("body").append("svg").attr("width",W).attr("height",H);
const yTop=100.7,yBot=934.5;

function panel(id,left,right,data,label,labelX,titleX,hX){
  const x=d3.scaleLinear().domain([0,1.1]).range([left,right]);
  const y=d3.scaleLinear().domain([0,2]).range([yBot,yTop]);
  svg.append("clipPath").attr("id",id).append("rect").attr("x",left).attr("y",yTop).attr("width",right-left).attr("height",yBot-yTop);
  const pts=svg.append("g").attr("clip-path",`url(#${id})`);
  data.forEach((d,i)=>pts.append("g").selectAll("circle").data(d).join("circle")
    .attr("cx",p=>x(p[0])).attr("cy",p=>y(p[1])).attr("r",R).attr("fill",seriesColors[i]));
  const style=g=>{g.selectAll("path,line").attr("stroke","#000").attr("stroke-width",2.6);g.selectAll("text").style("font-size","35px").style("font-family",'"Liberation Serif",serif').attr("fill","#000");};
  const none=()=>"";
  const ax=(maker,scale,vals,size,fmt,pos,pad)=>{
    const g=svg.append("g").attr("transform",pos);
    g.call(maker(scale).tickValues(vals).tickSizeInner(-size).tickSizeOuter(0).tickPadding(pad).tickFormat(fmt));
    style(g);return g;};
  const f=d3.format(".1f");
  ax(d3.axisBottom,x,xMinor,7.5,none,`translate(0,${yBot})`,21);
  ax(d3.axisBottom,x,xTicks,15,f,`translate(0,${yBot})`,21);
  ax(d3.axisTop,x,xMinor,7.5,none,`translate(0,${yTop})`,4);
  ax(d3.axisTop,x,xTicks,15,none,`translate(0,${yTop})`,4);
  ax(d3.axisLeft,y,yMinor,7.5,none,`translate(${left},0)`,19);
  ax(d3.axisLeft,y,yTicks,16,f,`translate(${left},0)`,19);
  ax(d3.axisRight,y,yMinor,7.5,none,`translate(${right},0)`,4);
  ax(d3.axisRight,y,yTicks,16,none,`translate(${right},0)`,4);
  svg.append("text").attr("x",titleX).attr("y",1049).attr("text-anchor","middle").style("font-size","41px").text("O/C");
  svg.append("text").attr("transform",`translate(${hX},518.5) rotate(-90)`).attr("text-anchor","middle").style("font-size","41px").text("H/C");
  svg.append("text").attr("x",labelX).attr("y",188).attr("text-anchor","middle").style("font-size","66px").text(label);
}
panel("ca",145.2,1179,panelA,"(a)",1114,662,64);
panel("cb",1520,2554.6,panelB,"(b)",2490,2037,1439);

const legY=d3.scalePoint().domain(seriesNames).range([47.3,359.3]);
const leg=svg.append("g");
leg.selectAll("circle").data(seriesNames).join("circle").attr("cx",2700).attr("cy",d=>legY(d)).attr("r",14).attr("fill",(d,i)=>seriesColors[i]);
leg.selectAll("text").data(seriesNames).join("text").attr("x",2787).attr("y",d=>legY(d)+21.5).style("font-size","62px").text(d=>d);
</script></body></html>
